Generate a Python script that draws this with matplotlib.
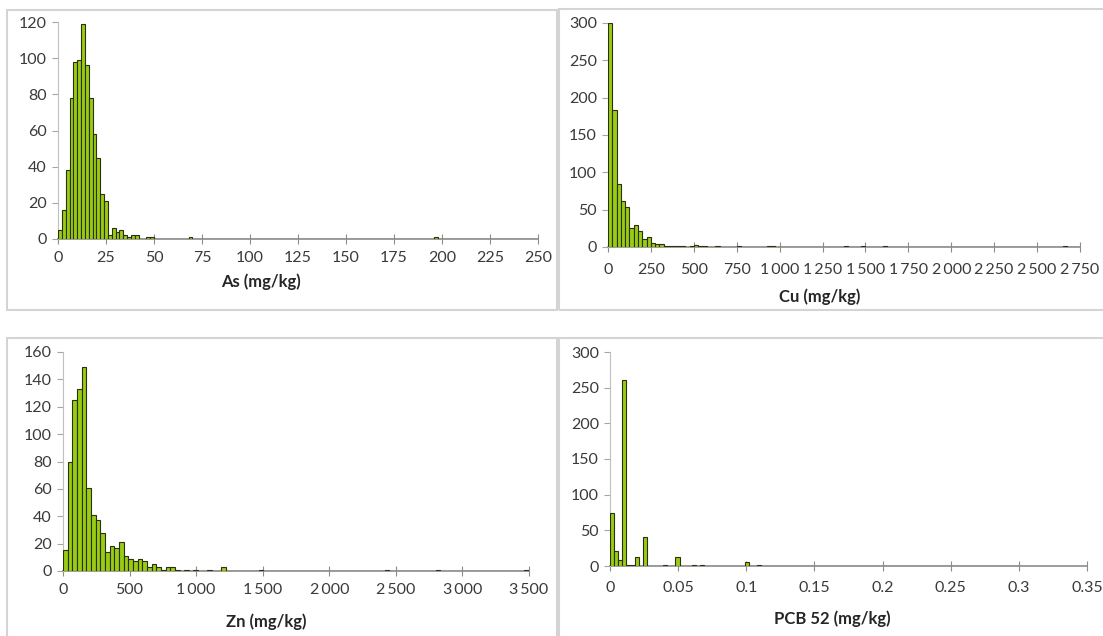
import matplotlib.pyplot as plt
import numpy as np
from matplotlib.patches import Rectangle
from matplotlib.ticker import FuncFormatter

plt.rcParams['font.family'] = ['Lato', 'DejaVu Sans']

# ---- data (histogram counts) ----
# As: bins of 2 mg/kg over 0-250
as_bin = 2
as_nbins = 125
as_head = [5, 16, 38, 78, 98, 99, 119, 96, 78, 58, 45, 25, 21,
           2, 6, 4, 5, 2, 1, 2, 2]
as_tail_bins = [23, 24, 34, 98]
as_tail_counts = [1, 1, 1, 1]

# Cu: bins of 25 mg/kg over 0-2750
cu_bin = 25
cu_nbins = 110
cu_head = [300, 183, 84, 62, 54, 25, 29, 22, 11, 13, 6, 4, 4, 2, 1, 1,
           2, 1, 0, 2, 3, 2, 1]
cu_tail_bins = [25, 30, 37, 38, 55, 59, 64, 106]
cu_tail_counts = [1, 1, 2, 2, 1, 1, 1, 1]

# Zn: bins of 35 mg/kg over 0-3500
zn_bin = 35
zn_nbins = 100
zn_head = [15, 80, 125, 133, 149, 61, 41, 37, 28, 14, 18, 17, 21, 11,
           9, 7, 9, 7, 3, 5, 3, 1, 3, 3, 1]
zn_tail_bins = [26, 28, 31, 34, 42, 69, 80, 99]
zn_tail_counts = [1, 1, 1, 3, 1, 1, 1, 1]

# PCB 52: bins of 0.003 mg/kg over 0-0.3
pcb_bin = 0.003
pcb_nbins = 100
pcb_bins_used = [0, 1, 2, 3, 4, 5, 6, 8, 13, 16, 20, 22, 33, 36]
pcb_counts_used = [75, 21, 9, 261, 2, 1, 12, 41, 2, 13, 2, 1, 5, 1]

as_xticks = np.arange(0, 251, 25)
as_yticks = np.arange(0, 121, 20)
cu_xticks = np.arange(0, 2751, 250)
cu_yticks = np.arange(0, 301, 50)
zn_xticks = np.arange(0, 3501, 500)
zn_yticks = np.arange(0, 161, 20)
pcb_xticks = [0, 0.05, 0.1, 0.15, 0.2, 0.25, 0.3, 0.35]
pcb_xlabels = ['0', '0.05', '0.1', '0.15', '0.2', '0.25', '0.3', '0.35']
pcb_yticks = np.arange(0, 301, 50)


def build(nbins, head=(), bins=(), counts=()):
    c = np.zeros(nbins)
    c[:len(head)] = head
    c[list(bins)] = counts
    return c


W, H = 1103, 636
fig = plt.figure(figsize=(W / 100, H / 100), dpi=100)

# chart frames (light gray boxes)
for (x0, y0, x1, y1) in [(7, 10, 557, 310), (559, 9, 1106, 310),
                         (7, 338, 557, 640), (559, 338, 1106, 640)]:
    fig.add_artist(Rectangle((x0 / W, 1 - y1 / H), (x1 - x0) / W, (y1 - y0) / H,
                             transform=fig.transFigure, fill=False,
                             edgecolor='#d4d4d4', linewidth=1.5))


def thousands(v, pos):
    return '{:,.0f}'.format(v).replace(',', '\u2009')


def panel(rect_px, counts, binw, xticks, yticks, xlim, label, label_px,
          xpad, xlabels=None, fmt=None):
    l, r, t, b = rect_px
    ax = fig.add_axes([l / W, 1 - b / H, (r - l) / W, (b - t) / H])
    edges = np.arange(len(counts)) * binw
    ax.bar(edges, counts, width=binw, align='edge', color='#99cc14',
           edgecolor='#2a3010', linewidth=0.8, zorder=3)
    ax.set_xlim(0, xlim)
    ax.set_ylim(0, yticks[-1])
    ax.set_xticks(xticks)
    if xlabels is not None:
        ax.set_xticklabels(xlabels)
    if fmt is not None:
        ax.xaxis.set_major_formatter(FuncFormatter(fmt))
    ax.set_yticks(yticks)
    for s in ['top', 'right']:
        ax.spines[s].set_visible(False)
    ax.spines['left'].set_color('#bfbfbf')
    ax.spines['bottom'].set_color('#8c8c8c')
    ax.spines['bottom'].set_linewidth(1.2)
    ax.spines['bottom'].set_zorder(2)
    ax.tick_params(axis='y', direction='out', length=4, color='#a6a6a6',
                   labelsize=11.5, labelcolor='#3a3a3a', pad=4)
    ax.tick_params(axis='x', direction='inout', length=7, color='#8c8c8c',
                   labelsize=11.5, labelcolor='#3a3a3a', pad=xpad)
    fig.text(label_px[0] / W, 1 - label_px[1] / H, label, ha='center',
             va='center', fontsize=12, fontweight='bold', color='#262626')
    return ax


panel((58, 538, 22, 239), build(as_nbins, as_head, as_tail_bins, as_tail_counts),
      as_bin, as_xticks, as_yticks, 250, 'As (mg/kg)', (261, 282), 5)
panel((608, 1080, 23, 247), build(cu_nbins, cu_head, cu_tail_bins, cu_tail_counts),
      cu_bin, cu_xticks, cu_yticks, 2750, 'Cu (mg/kg)', (820, 297), 8,
      fmt=thousands)
panel((63, 529, 352, 571), build(zn_nbins, zn_head, zn_tail_bins, zn_tail_counts),
      zn_bin, zn_xticks, zn_yticks, 3500, 'Zn (mg/kg)', (266, 622), 5,
      fmt=thousands)
panel((610, 1087, 352, 566), build(pcb_nbins, (), pcb_bins_used, pcb_counts_used),
      pcb_bin, pcb_xticks, pcb_yticks, 0.35, 'PCB 52 (mg/kg)', (832, 619), 7,
      xlabels=pcb_xlabels)

plt.savefig('out.png', dpi=100)
